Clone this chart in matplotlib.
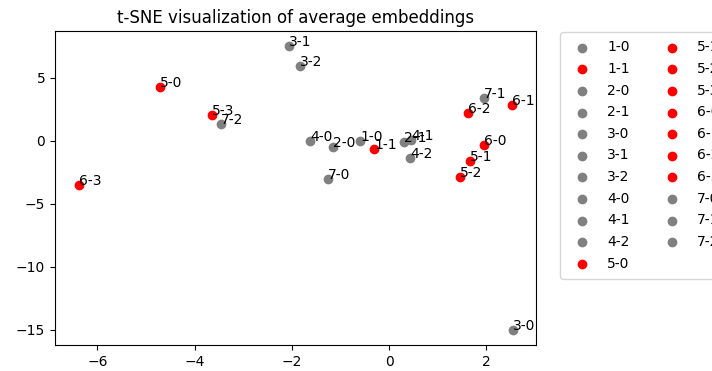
import matplotlib
matplotlib.use('Agg')
import matplotlib.pyplot as plt

# Labels (experiment-run) and their t-SNE coordinates
labels = ['1-0', '1-1', '2-0', '2-1', '3-0', '3-1', '3-2', '4-0', '4-1', '4-2',
          '5-0', '5-1', '5-2', '5-3', '6-0', '6-1', '6-2', '6-3', '7-0', '7-1', '7-2']
xs = [-0.60, -0.31, -1.15, 0.31, 2.55, -2.06, -1.83, -1.63, 0.45, 0.43,
      -4.71, 1.67, 1.46, -3.64, 1.95, 2.53, 1.63, -6.38, -1.26, 1.95, -3.46]
ys = [0.00, -0.63, -0.48, -0.08, -15.0, 7.54, 5.95, 0.00, 0.10, -1.35,
      4.29, -1.59, -2.86, 2.06, -0.32, 2.86, 2.22, -3.49, -3.00, 3.41, 1.35]
highlighted = ['1-1', '5-0', '5-1', '5-2', '5-3', '6-0', '6-1', '6-2', '6-3']

fig = plt.figure(figsize=(7.12, 3.71), dpi=100)
ax = fig.add_axes([55 / 712, 26 / 371, 481 / 712, 314 / 371])

for lab, x, y in zip(labels, xs, ys):
    color = 'red' if lab in highlighted else 'gray'
    ax.scatter(x, y, color=color, label=lab)
    ax.annotate(lab, (x, y))

ax.set_xlim(-6.87, 3.02)
ax.set_ylim(-16.2, 8.73)
ax.set_title('t-SNE visualization of average embeddings')
ax.legend(bbox_to_anchor=(1.05, 0.997), loc='upper left', ncol=2,
          borderaxespad=0, labelspacing=0.55, borderpad=0.6)

fig.savefig('out.png', dpi=100)
